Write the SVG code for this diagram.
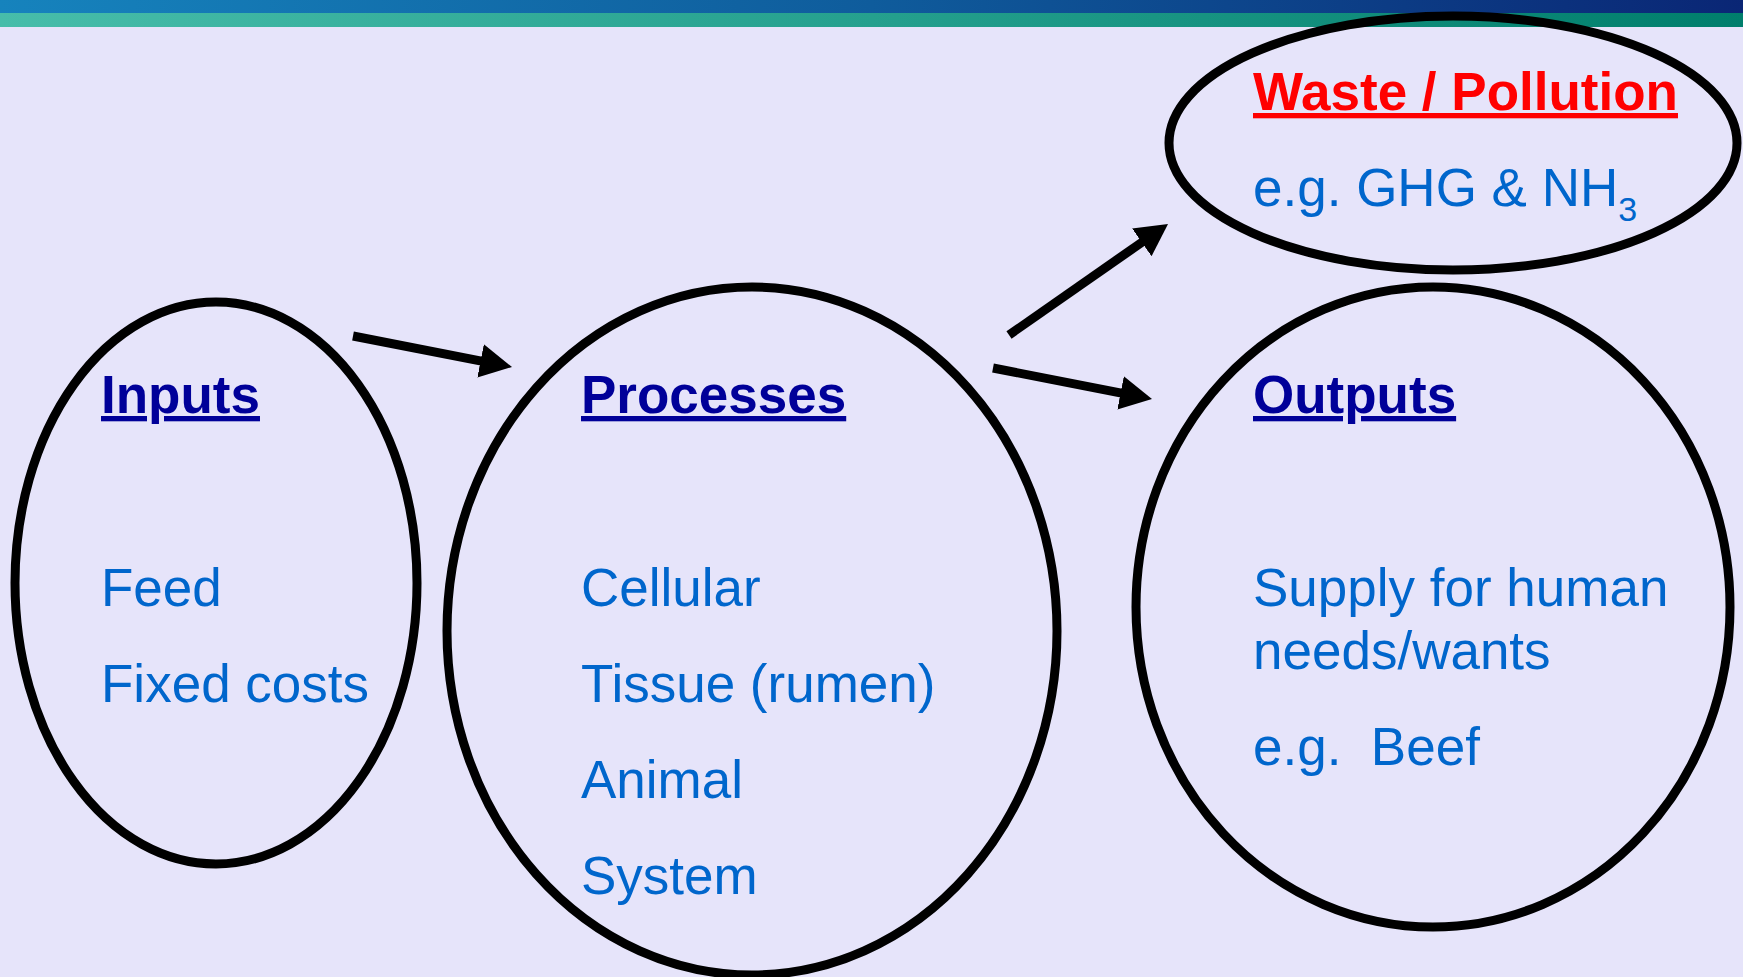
<svg xmlns="http://www.w3.org/2000/svg" width="1743" height="977" viewBox="0 0 1743 977">
<defs>
<linearGradient id="gBlue" x1="0" y1="0" x2="1" y2="0">
<stop offset="0" stop-color="#1683BD"/>
<stop offset="0.5" stop-color="#0F5C9C"/>
<stop offset="1" stop-color="#0A2675"/>
</linearGradient>
<linearGradient id="gTeal" x1="0" y1="0" x2="1" y2="0">
<stop offset="0" stop-color="#47BDAA"/>
<stop offset="0.5" stop-color="#25A08E"/>
<stop offset="1" stop-color="#007E6C"/>
</linearGradient>
<marker id="ah" markerUnits="userSpaceOnUse" markerWidth="32" markerHeight="34" viewBox="0 0 32 34" refX="10" refY="17" orient="auto">
<path d="M0,0 L32,17 L0,34 z" fill="#000"/>
</marker>
<style>
.ell{fill:none;stroke:#000;stroke-width:9}
.head{font-family:"Liberation Sans",Arial,sans-serif;font-weight:bold;font-size:53px;fill:#000099;text-decoration:underline}
.red{fill:#FF0000}
.body{font-family:"Liberation Sans",Arial,sans-serif;font-size:53px;fill:#0066CC}
.arr{stroke:#000;stroke-width:9;fill:none;marker-end:url(#ah)}
</style>
</defs>
<rect x="0" y="0" width="1743" height="977" fill="#E6E4FA"/>
<rect x="0" y="0" width="1743" height="13" fill="url(#gBlue)"/>
<rect x="0" y="13" width="1743" height="14" fill="url(#gTeal)"/>
<g id="inputs">
<ellipse class="ell" cx="216" cy="583" rx="201" ry="281"/>
<text class="head" x="101" y="413">Inputs</text>
<text class="body" x="101" y="606">Feed</text>
<text class="body" x="101" y="702">Fixed costs</text>
</g>
<g id="processes">
<ellipse class="ell" cx="752" cy="631" rx="305" ry="344"/>
<text class="head" x="581" y="413">Processes</text>
<text class="body" x="581" y="606">Cellular</text>
<text class="body" x="581" y="702">Tissue (rumen)</text>
<text class="body" x="581" y="798">Animal</text>
<text class="body" x="581" y="894">System</text>
</g>
<g id="outputs">
<ellipse class="ell" cx="1433" cy="607" rx="297" ry="320"/>
<text class="head" x="1253" y="413">Outputs</text>
<text class="body" x="1253" y="606">Supply for human</text>
<text class="body" x="1253" y="669">needs/wants</text>
<text class="body" x="1253" y="765">e.g.&#160; Beef</text>
</g>
<g id="waste">
<ellipse class="ell" cx="1453" cy="143" rx="284" ry="127"/>
<text class="head red" x="1253" y="110">Waste / Pollution</text>
<text class="body" x="1253" y="206">e.g. GHG &amp; NH<tspan font-size="34px" dy="15">3</tspan></text>
</g>
<g id="connectors">
<line class="arr" x1="353" y1="336" x2="490.4" y2="362.8"/>
<line class="arr" x1="1009" y1="335" x2="1150" y2="236.6"/>
<line class="arr" x1="993" y1="368" x2="1130.4" y2="394.8"/>
</g>
</svg>
